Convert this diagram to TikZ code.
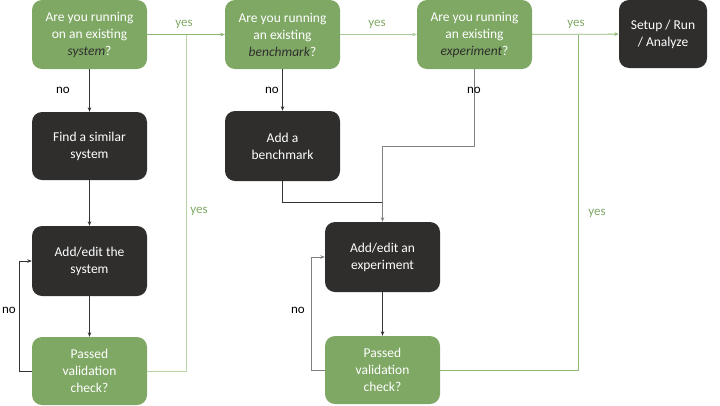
\documentclass[tikz,border=0pt]{standalone}
\usepackage{fontspec}
\setmainfont{Carlito}
\usetikzlibrary{arrows.meta}
\definecolor{gbox}{HTML}{7FA865}
\definecolor{dbox}{HTML}{2F2E2D}
\definecolor{lnk}{HTML}{333333}
\definecolor{ylab}{HTML}{7FA865}
\definecolor{lgreen}{HTML}{B7D3A6}
\definecolor{mgreen}{HTML}{8DB873}
\definecolor{gline}{HTML}{808080}
\begin{document}
\begin{tikzpicture}[x=1pt,y=-1pt,
  box/.style={rectangle,rounded corners=10pt,minimum width=115pt,minimum height=69pt,
    align=center,text=white,font=\fontsize{13.5}{17}\selectfont,inner sep=0pt},
  gq/.style={box,fill=gbox},
  dk/.style={box,fill=dbox},
  arr/.style={draw=lnk,line width=0.8pt,-{Stealth[length=4.5pt,width=3.5pt]}},
  lab/.style={font=\fontsize{13}{14}\selectfont,text=black,inner sep=1pt},
  ylb/.style={font=\fontsize{13}{14}\selectfont,text=ylab,inner sep=1pt}
]
\useasboundingbox (0,0) rectangle (720,405);
\newcommand{\dit}[1]{\textcolor{dbox}{\itshape #1}}
% nodes
\node[gq] (q1) at (89.5,34.5) {Are you running\\on an existing\\\dit{system}?};
\node[gq] (q2) at (282.5,34.5) {Are you running\\an existing\\\dit{benchmark}?};
\node[gq] (q3) at (474.5,34.5) {Are you running\\an existing\\\dit{experiment}?};
\node[dk,minimum width=88pt,minimum height=68pt] (run) at (663,34) {Setup / Run\\/ Analyze};
\node[dk,minimum height=68pt] (find) at (89.5,146) {Find a similar\\system};
\node[dk,minimum height=70pt] (addsys) at (89.5,261) {Add/edit the\\system};
\node[gq,minimum height=68pt] (pass1) at (89.5,371) {Passed\\validation\\check?};
\node[dk,minimum height=70pt] (bench) at (282.5,146) {Add a\\benchmark};
\node[dk,minimum height=70pt] (addexp) at (382.5,257) {Add/edit an\\experiment};
\node[gq,minimum height=68pt] (pass2) at (382.5,370) {Passed\\validation\\check?};
% coordinates
\coordinate (j1) at (186,34.5);
\coordinate (j3) at (578,34.5);
\coordinate (m1) at (382.5,202);
\coordinate (m2) at (382.5,146);
% connectors
\draw[arr,draw=mgreen] (q1) -- (q2);
\node[ylb] (y1) at (184,24) {yes};
\draw[arr,draw=lgreen!70!mgreen] (q2) -- (q3);
\node[ylb] (y2) at (377,24) {yes};
\draw[arr,draw=mgreen] (q3) -- (run);
\node[ylb] (y3) at (576,24) {yes};
\draw[arr] (q1) -- (find);
\node[lab] (n1) at (63,90) {no};
\draw[arr] (find) -- (addsys);
\draw[arr] (addsys) -- (pass1);
\draw[arr] (pass1.west) -- ++(-12,0) |- (addsys.west);
\node[lab] (n2) at (9,310) {no};
\draw[draw=lgreen,line width=1pt] (pass1.east) -| (j1);
\node[ylb] (y4) at (199,211) {yes};
\draw[arr] (q2) -- (bench);
\node[lab] (n3) at (272,90) {no};
\draw[draw=lnk,line width=0.8pt] (bench.south) |- (m1);
\draw[arr,draw=gline,line width=1pt] (q3.south) |- (m2) -- (addexp.north);
\node[lab] (n4) at (474,90) {no};
\draw[arr] (addexp) -- (pass2);
\draw[arr,draw=gline] (pass2.west) -- ++(-13,0) |- (addexp.west);
\node[lab] (n5) at (298,310) {no};
\draw[draw=mgreen,line width=1pt] (pass2.east) -| (j3);
\node[ylb] (y5) at (597,213) {yes};
\end{tikzpicture}
\end{document}
